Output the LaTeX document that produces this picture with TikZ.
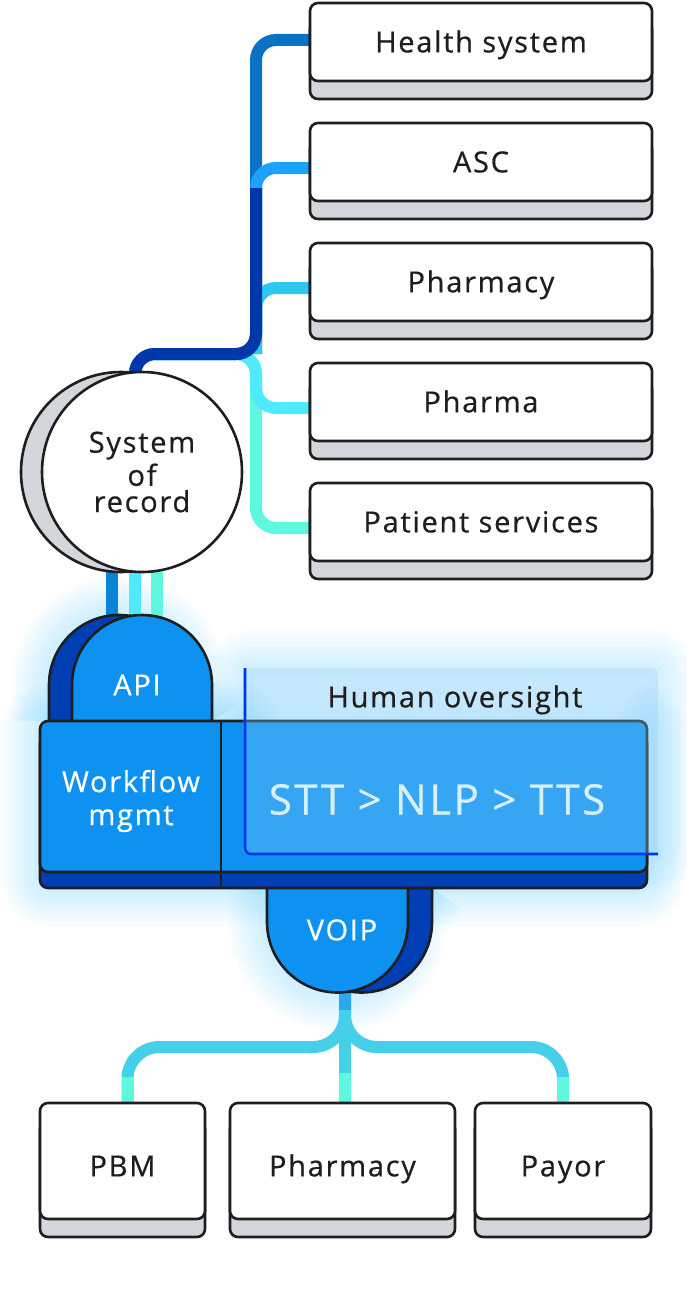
\documentclass[tikz,border=0pt]{standalone}
\usepackage{fontspec}
\setmainfont[LetterSpace=6, FakeBold=0.6]{Open Sans}
\usepackage{tikz}
\usetikzlibrary{positioning}

\definecolor{ink}{HTML}{1E1E1E}
\definecolor{baseGray}{HTML}{D3D6DB}
\definecolor{mainBlue}{HTML}{0D92F2}
\definecolor{deepBlue}{HTML}{003EB3}
\definecolor{trunkBlue}{HTML}{0038AA}
\definecolor{healthBlue}{HTML}{0A72C4}
\definecolor{ascBlue}{HTML}{1EA0FF}
\definecolor{pharmCyan}{HTML}{2CC8F2}
\definecolor{pharmaCyan}{HTML}{50EAFF}
\definecolor{aqua}{HTML}{5FF7DD}
\definecolor{stubBlue}{HTML}{0A84D8}
\definecolor{voipLine}{HTML}{45CFE8}
\definecolor{voipTop}{HTML}{2BA8EE}
\definecolor{glowBlue}{HTML}{5CC8FF}
\definecolor{panelBlue}{HTML}{8ECEF8}
\definecolor{panelEdge}{HTML}{0036E6}

\pgfdeclarelayer{glow}
\pgfdeclarelayer{background}
\pgfsetlayers{glow,background,main}

\begin{document}
\begin{tikzpicture}[
    x=1pt, y=-1pt,
    node distance=42pt and 25pt,
    label_style/.style={
        font=\fontsize{29}{33}\selectfont,
        text=ink,
        align=center
    },
    one_line/.style={
        text height=20.7pt,
        text depth=0pt
    },
    tile_style/.style={
        label_style,
        one_line,
        draw=ink,
        line width=2.6pt,
        fill=white,
        rounded corners=8pt,
        inner sep=0pt,
        outer sep=0pt,
        preaction={draw=ink, fill=baseGray, transform canvas={yshift=-18pt}}
    },
    col_tile/.style={
        minimum width=342pt,
        minimum height=78pt
    },
    row_tile/.style={
        minimum height=116pt,
        text height=30.7pt
    },
    disc_style/.style={
        label_style,
        circle,
        draw=ink,
        line width=2.6pt,
        fill=white,
        minimum size=200pt,
        inner sep=0pt,
        outer sep=0pt,
        preaction={draw=ink, fill=baseGray, transform canvas={xshift=-21pt}}
    },
    link_style/.style={
        line width=12pt,
        rounded corners=20pt
    },
    block_style/.style={
        draw=ink,
        line width=2.6pt,
        line join=round
    },
    chip_text/.style={
        label_style,
        text=white
    }
]
\useasboundingbox (0,0) rectangle (686,1306);

% --- Right column ---
\node[tile_style, col_tile] (Health) at (481,42) {Health system};
\node[tile_style, col_tile, below=of Health] (ASC) {ASC};
\node[tile_style, col_tile, below=of ASC] (Pharmacy) {Pharmacy};
\node[tile_style, col_tile, below=of Pharmacy] (Pharma) {Pharma};
\node[tile_style, col_tile, below=of Pharma] (Patient) {Patient services};

% System of record
\node[disc_style] (SoR) at (142,472) {\raisebox{-4pt}{\shortstack{System\\[1pt]of\\[1pt]record}}};

\coordinate (junction) at (256,354);
\coordinate (trunk_top) at (256,188);
\coordinate (sor_in) at ([xshift=-7pt]SoR.north);
\coordinate (api_top) at (142,640);

% --- Links ---
\begin{pgfonlayer}{background}
\draw[link_style, aqua] ([yshift=-6pt]Patient.west) -| (junction) -| (sor_in);
\draw[link_style, pharmaCyan] ([yshift=-6pt]Pharma.west) -| (junction) -| (sor_in);
\draw[link_style, healthBlue] ([yshift=2pt]Health.west) -| (junction) -| (sor_in);
\draw[link_style, ascBlue] ([yshift=-6pt]ASC.west) -| (junction);
\draw[link_style, pharmCyan] ([yshift=-6pt]Pharmacy.west) -| (junction);
% dark trunk on top
\draw[link_style, trunkBlue] (trunk_top) -- (junction) -| (sor_in);

% circle down to API
\draw[line width=12pt, stubBlue] ([xshift=-30pt]SoR.south) -- ([xshift=-30pt]api_top);
\draw[line width=12pt, pharmaCyan] ([xshift=-7pt]SoR.south) -- ([xshift=-7pt]api_top);
\draw[line width=12pt, aqua] ([xshift=15pt]SoR.south) -- ([xshift=15pt]api_top);
\end{pgfonlayer}

% --- Glow round the blue blocks ---
\begin{pgfonlayer}{glow}
\foreach \w in {76,68,...,12} {
    \draw[glowBlue, line width=\w pt, opacity=0.035, rounded corners=10pt] (40,721) rectangle (647,888);
    \draw[glowBlue, line width=\w pt, opacity=0.03, rounded corners=8pt] (243,668) rectangle (658,855);
    \draw[glowBlue, line width=\w pt, opacity=0.035] (49,721) -- (49,685) arc[start angle=180, end angle=360, radius=70] -- (212,721);
    \draw[glowBlue, line width=\w pt, opacity=0.035] (267,888) -- (267,922) arc[start angle=180, end angle=0, radius=70.5] -- (432,888);
}
\end{pgfonlayer}

% --- API dome ---
\filldraw[block_style, fill=deepBlue] (49,721) -- (49,685) arc[start angle=180, end angle=360, radius=70] -- (189,721);
\filldraw[block_style, fill=mainBlue] (72,721) -- (72,685) arc[start angle=180, end angle=360, radius=70] -- (212,721);
\node[chip_text, one_line] (API) at (137,685) {API};

% --- VOIP dome ---
\filldraw[block_style, fill=deepBlue] (291,888) -- (291,922) arc[start angle=180, end angle=0, radius=70.5] -- (432,888);
\filldraw[block_style, fill=mainBlue] (267,888) -- (267,922) arc[start angle=180, end angle=0, radius=70.5] -- (408,888);
\node[chip_text, one_line] (VOIP) at (342,930) {VOIP};

% --- Workflow block ---
\filldraw[block_style, fill=deepBlue, rounded corners=8pt] (40,735) rectangle (647,888);
\filldraw[block_style, fill=mainBlue, rounded corners=8pt] (40,721) rectangle (647,872);
\draw[block_style] (221,721) -- (221,888);
\node[chip_text] (Workflow) at (131,801) {Workflow\\mgmt};
\node[chip_text, one_line, text height=29pt, font=\fontsize{42}{46}\selectfont] (Pipeline) at (437,800) {STT > NLP > TTS};

% Human oversight panel
\fill[panelBlue, opacity=0.32, rounded corners=6pt] (243,668) rectangle (658,855);
\draw[panelEdge, line width=2.6pt, rounded corners=6pt] (245,668) -- (245,854) -- (658,854);
\node[label_style, one_line] (Oversight) at (455,697) {Human oversight};

% --- Bottom row ---
\node[tile_style, row_tile, minimum width=165pt] (PBM) at (122.5,1161) {PBM};
\node[tile_style, row_tile, minimum width=225pt, right=of PBM] (BottomPharmacy) {Pharmacy};
\node[tile_style, row_tile, minimum width=176pt, right=20pt of BottomPharmacy] (Payor) {Payor};

\coordinate (voip_out) at (345,985);
\coordinate (fork) at (345,1047);
\coordinate (pbm_in) at ([xshift=5pt]PBM.north);

\begin{pgfonlayer}{background}
\draw[link_style, voipLine, rounded corners=32pt] (voip_out) |- (pbm_in |- fork) -- (pbm_in);
\draw[link_style, voipLine, rounded corners=32pt] (voip_out) |- (Payor.north |- fork) -- (Payor.north);
\draw[link_style, voipLine] (voip_out) -- (voip_out |- BottomPharmacy.north);
% tints
\draw[line width=12pt, voipTop] (voip_out) -- ++(0,25);
\draw[line width=12pt, aqua] (pbm_in) -- ++(0,-26);
\draw[line width=12pt, aqua] (Payor.north) -- ++(0,-26);
\draw[line width=12pt, aqua] (voip_out |- BottomPharmacy.north) -- ++(0,-30);
\end{pgfonlayer}

\end{tikzpicture}
\end{document}
